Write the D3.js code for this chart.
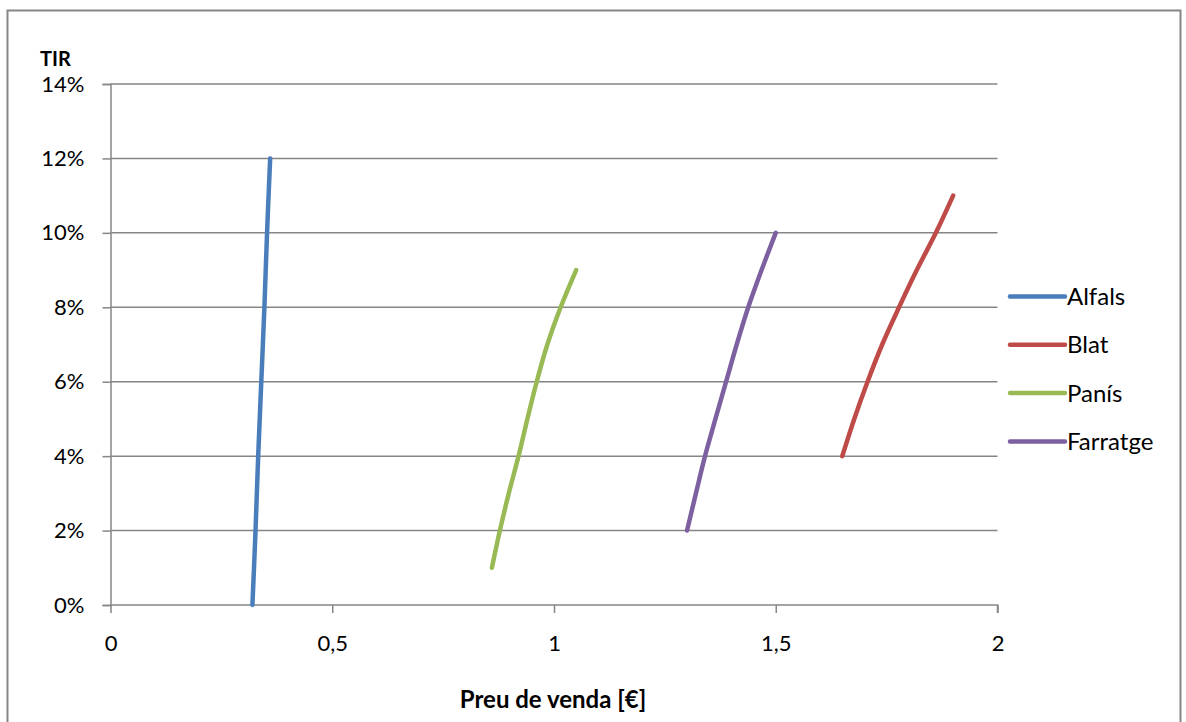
<!DOCTYPE html>
<html><head><meta charset="utf-8">
<script src="https://cdn.jsdelivr.net/npm/d3@7"></script>
<style>
body{margin:0;background:#fff;}
text{font-family:Lato,"Open Sans",sans-serif;fill:#000;}
</style></head>
<body><svg id="c" width="1186" height="722"></svg>
<script>
const seriesNames = ["Alfals","Blat","Panís","Farratge"];
const colors = ["#4a7ebb","#be4b48","#98b954","#7d60a0"];
// TIR values (%) per series
const alfalsTIR = [0,2,4,6,8,10,12];
const alfalsPrice = [0.32,0.327,0.333,0.34,0.347,0.353,0.36];
const blatTIR = [4,5,6,7,8,9,10,11];
const blatPrice = [1.65,1.677,1.707,1.74,1.778,1.818,1.861,1.9];
const panisTIR = [1,2,3,4,5,6,7,8,9];
const panisPrice = [0.86,0.878,0.898,0.92,0.94,0.961,0.985,1.015,1.05];
const farratgeTIR = [2,3,4,5,6,7,8,9,10];
const farratgePrice = [1.30,1.32,1.3405,1.364,1.388,1.412,1.438,1.468,1.5];
const xTicks = [0,0.5,1,1.5,2];
const xTickLabels = ["0","0,5","1","1,5","2"];
const yTicks = [0,2,4,6,8,10,12,14];
const yTickLabels = ["0%","2%","4%","6%","8%","10%","12%","14%"];

const series = [
  {name:seriesNames[0], pts:alfalsPrice.map((p,i)=>[p,alfalsTIR[i]])},
  {name:seriesNames[1], pts:blatPrice.map((p,i)=>[p,blatTIR[i]])},
  {name:seriesNames[2], pts:panisPrice.map((p,i)=>[p,panisTIR[i]])},
  {name:seriesNames[3], pts:farratgePrice.map((p,i)=>[p,farratgeTIR[i]])}
];

const svg = d3.select("#c");
const grey = "#868686";
svg.append("rect").attr("x",7.5).attr("y",10.5).attr("width",1173).attr("height",730)
  .attr("fill","#fff").attr("stroke",grey).attr("stroke-width",2);

const x = d3.scaleLinear().domain([0,2]).range([110.5,997.5]);
const y = d3.scaleLinear().domain([0,14]).range([605,84]);

// gridlines
svg.append("g").selectAll("line").data(yTicks.filter(d=>d>0)).join("line")
  .attr("x1",x(0)).attr("x2",x(2)).attr("y1",d=>y(d)).attr("y2",d=>y(d))
  .attr("stroke",grey).attr("stroke-width",1.5);

// y axis
const yAxis = d3.axisLeft(y).tickValues(yTicks).tickFormat((d,i)=>yTickLabels[i]).tickSize(8).tickPadding(18);
const gy = svg.append("g").attr("transform",`translate(${x(0)},0)`).call(yAxis);
gy.select(".domain").attr("stroke",grey).attr("stroke-width",1.5);
gy.selectAll(".tick line").attr("stroke",grey).attr("stroke-width",1.5);
gy.selectAll(".tick text").attr("font-size",22).attr("font-family","Lato").attr("fill","#000");

// x axis
const xAxis = d3.axisBottom(x).tickValues(xTicks).tickFormat((d,i)=>xTickLabels[i]).tickSize(8).tickPadding(22);
const gx = svg.append("g").attr("transform",`translate(0,${y(0)})`).call(xAxis);
gx.select(".domain").attr("stroke",grey).attr("stroke-width",1.5).attr("d",`M${x(0)},0H${x(2)}V8`);
gx.selectAll(".tick line").attr("stroke",grey).attr("stroke-width",1.5);
gx.selectAll(".tick text").attr("font-size",22).attr("font-family","Lato").attr("fill","#000");

// lines
const line = d3.line().x(d=>x(d[0])).y(d=>y(d[1])).curve(d3.curveCatmullRom.alpha(0.5));
svg.append("g").selectAll("path").data(series).join("path")
  .attr("d",d=>line(d.pts)).attr("fill","none")
  .attr("stroke",(d,i)=>colors[i]).attr("stroke-width",4.5).attr("stroke-linecap","round");

// titles
svg.append("text").attr("x",40).attr("y",66).attr("font-size",20).attr("font-weight","bold").text("TIR");
svg.append("text").attr("x",553).attr("y",708).attr("text-anchor","middle").attr("font-size",24).attr("font-weight","bold").text("Preu de venda [€]");

// legend
const lg = svg.append("g").selectAll("g").data(seriesNames).join("g")
  .attr("transform",(d,i)=>`translate(1010,${296.5+i*48.3})`);
lg.append("line").attr("x1",0).attr("x2",55).attr("stroke",(d,i)=>colors[i]).attr("stroke-width",4.5).attr("stroke-linecap","round");
lg.append("text").attr("x",57).attr("dy","0.35em").attr("font-size",24).text(d=>d);
</script></body></html>
